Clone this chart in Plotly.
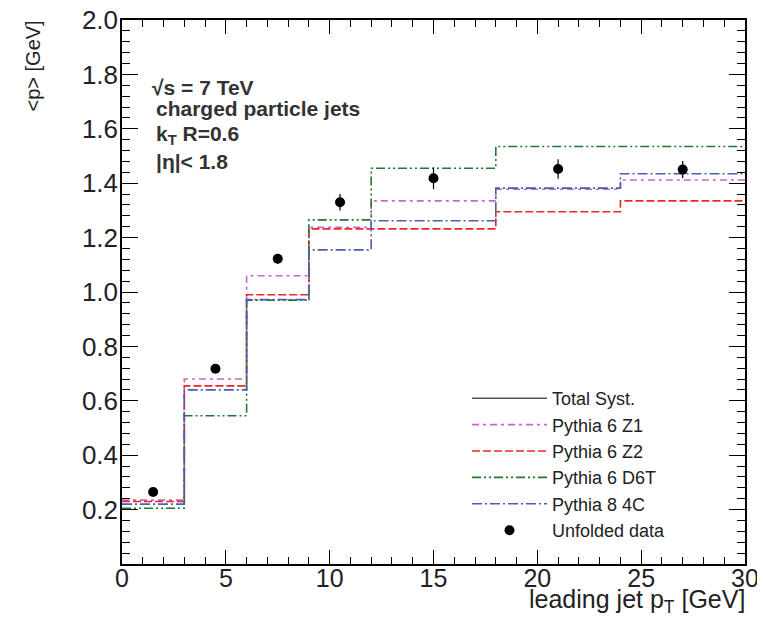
import plotly.graph_objects as go

# ---------------- data ----------------
bin_edges = [0, 3, 6, 9, 12, 18, 24, 30]
data_x = [1.5, 4.5, 7.5, 10.5, 15, 21, 27]
data_y = [0.265, 0.718, 1.122, 1.330, 1.418, 1.452, 1.450]
data_err = [0.012, 0.015, 0.018, 0.030, 0.040, 0.036, 0.032]

z1_vals = [0.235, 0.680, 1.060, 1.238, 1.335, 1.378, 1.412]
z2_vals = [0.230, 0.655, 0.990, 1.232, 1.232, 1.295, 1.335]
d6t_vals = [0.205, 0.545, 0.970, 1.265, 1.455, 1.535, 1.535]
c4_vals = [0.220, 0.640, 0.972, 1.155, 1.262, 1.382, 1.435]

y_ticks = [0.2, 0.4, 0.6, 0.8, 1.0, 1.2, 1.4, 1.6, 1.8, 2.0]
x_ticks = [0, 5, 10, 15, 20, 25, 30]

FONT = "Liberation Sans, Arial, sans-serif"

# page offset (browser body margin) and figure size
OFF = 8
W, H = 749, 609
# target plot-area box in window pixels
PL, PR, PT, PB = 122, 745, 20, 564
L, T = PL - OFF, PT - OFF
R = W - (PR - OFF)
B = H - (PB - OFF)
pw, ph = W - L - R, H - T - B


def px_x(x):
    return (x - PL) / pw


def px_y(y):
    return 1 - (y - PT) / ph


fig = go.Figure()


def step_y(vals):
    return list(vals) + [vals[-1]]


fig.add_trace(go.Scatter(
    x=[None], y=[None], mode="lines", name="Total Syst.",
    line=dict(color="black", width=1), legendgroup="g0"))

series = [
    ("Pythia 6 Z1", z1_vals, "#c866c8", "7px,4px,3px,4px"),
    ("Pythia 6 Z2", z2_vals, "#e8282a", "8px,3px"),
    ("Pythia 6 D6T", d6t_vals, "#1e7a32", "9px,3px,2px,3px,2px,3px"),
    ("Pythia 8 4C", c4_vals, "#4a5fb0", "10px,3px,2px,3px"),
]
for i, (name, vals, col, dash) in enumerate(series):
    fig.add_trace(go.Scatter(
        x=bin_edges, y=step_y(vals), mode="lines", name=name,
        line=dict(color=col, width=1.6, dash=dash, shape="hv"),
        legendgroup=f"g{i+1}"))

fig.add_trace(go.Scatter(
    x=data_x, y=data_y, mode="markers", name="Unfolded data",
    marker=dict(color="black", size=10),
    error_y=dict(type="data", array=data_err, color="black",
                 thickness=1.2, width=0),
    legendgroup="g9"))

axis_common = dict(
    showgrid=False, zeroline=False, showline=True, linecolor="black",
    linewidth=1.5, mirror="allticks", ticks="inside", tickcolor="black",
    tickwidth=1.2, ticklabeloverflow="allow",
)

fig.update_xaxes(
    range=[0, 30], tickvals=x_ticks, ticklen=14, ticklabelstandoff=-9,
    tickfont=dict(family=FONT, size=25, color="#222"),
    minor=dict(dtick=1, ticklen=7, ticks="inside", tickcolor="black"),
    **axis_common)
fig.update_yaxes(
    range=[0, 2.0], tickvals=y_ticks, tickformat=".1f", ticklen=16,
    ticklabelstandoff=-3,
    tickfont=dict(family=FONT, size=26, color="#222"),
    minor=dict(dtick=0.04, ticklen=8, ticks="inside", tickcolor="black"),
    **axis_common)

labels = [
    ("<b>√s = 7 TeV</b>", 150, 87),
    ("<b>charged particle jets</b>", 154, 109),
    ("<b>k<sub>T</sub> R=0.6</b>", 154, 135),
    ("<b>|η|< 1.8</b>", 154, 162),
]
ann = []
for text, x, y in labels:
    ann.append(dict(
        text=text, xref="paper", yref="paper",
        x=px_x(x), y=px_y(y),
        xanchor="left", yanchor="middle", showarrow=False,
        font=dict(family=FONT, size=21, color="#333")))

ann.append(dict(
    text="leading jet p<sub>T</sub> [GeV]", xref="paper", yref="paper",
    x=px_x(747), y=px_y(601), xanchor="right", yanchor="middle",
    showarrow=False, font=dict(family=FONT, size=25, color="#222")))
ann.append(dict(
    text="<p> [GeV]", xref="paper", yref="paper",
    x=px_x(33), y=px_y(19), xanchor="center", yanchor="top", textangle=-90,
    showarrow=False, font=dict(family=FONT, size=20, color="#222")))

fig.update_layout(
    width=W, height=H,
    margin=dict(l=L, r=R, t=T, b=B, autoexpand=False),
    plot_bgcolor="white", paper_bgcolor="white",
    annotations=ann,
    showlegend=True,
    legend=dict(
        x=px_x(467), y=px_y(380), xanchor="left", yanchor="top",
        bgcolor="rgba(0,0,0,0)", tracegroupgap=0,
        font=dict(family=FONT, size=18, color="#222"),
        itemwidth=75, traceorder="grouped"),
)

fig.write_html("out.html")
